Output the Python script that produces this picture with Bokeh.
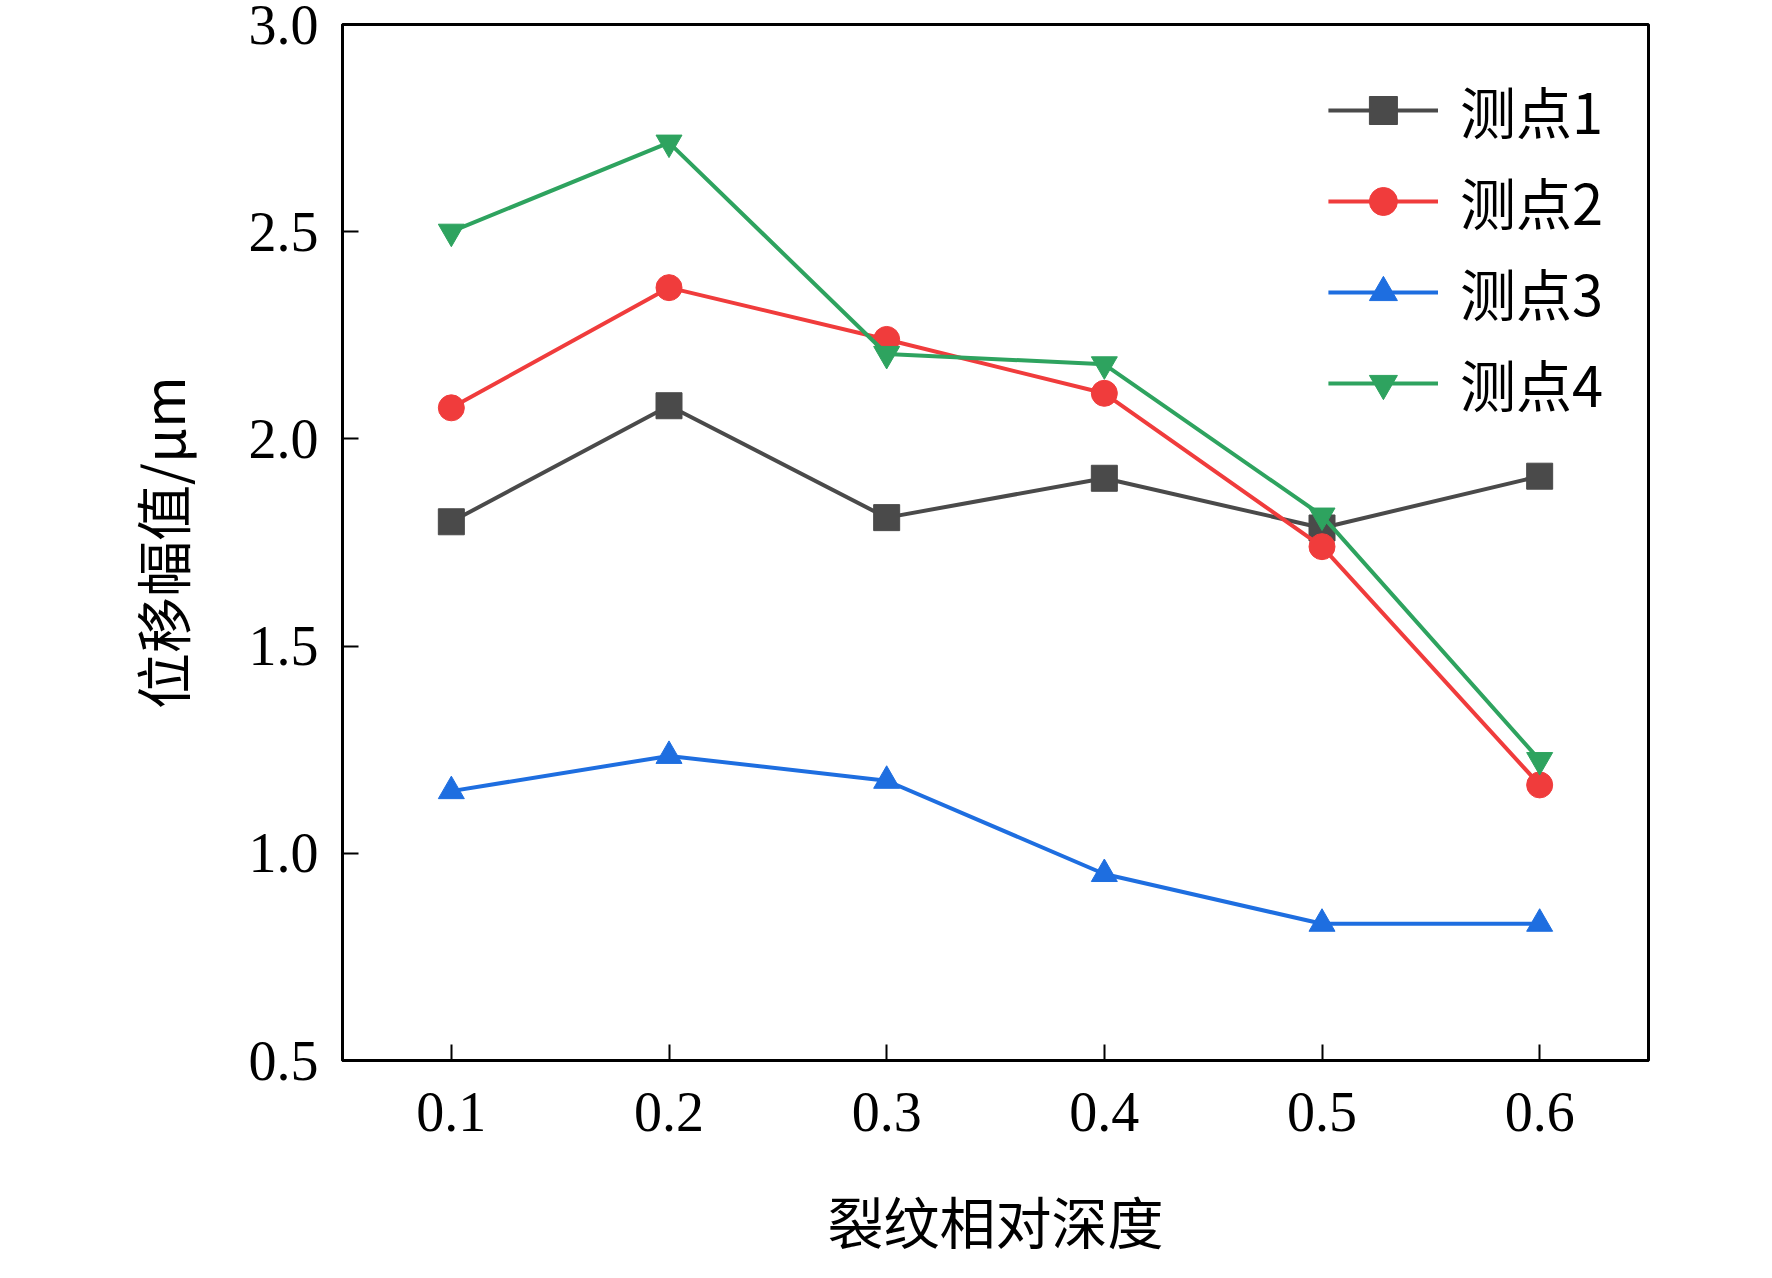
from bokeh.plotting import figure
from bokeh.models import Range1d, FixedTicker, Legend, LegendItem, CustomJSTickFormatter
from bokeh.embed import file_html
from bokeh.resources import INLINE

x = [0.1, 0.2, 0.3, 0.4, 0.5, 0.6]
s1 = [1.80, 2.08, 1.81, 1.905, 1.785, 1.91]
s2 = [2.075, 2.365, 2.24, 2.11, 1.74, 1.165]
s3 = [1.15, 1.235, 1.175, 0.95, 0.83, 0.83]
s4 = [2.50, 2.715, 2.205, 2.18, 1.815, 1.225]
names = ["测点1", "测点2", "测点3", "测点4"]
colors = ["#4a4a4a", "#f03c3c", "#1e6ee0", "#2ea35f"]
markers = ["square", "circle", "triangle", "inverted_triangle"]

p = figure(width=1756, height=1262, output_backend="svg", toolbar_location=None,
           x_range=Range1d(0.05, 0.65), y_range=Range1d(0.5, 3.0),
           min_border_left=342, min_border_right=108, min_border_top=24, min_border_bottom=188)
p.xgrid.visible = False
p.ygrid.visible = False
p.outline_line_color = "black"
p.outline_line_width = 3
for ax in (p.xaxis[0], p.yaxis[0]):
    ax.axis_line_width = 3
    ax.major_tick_in = 16
    ax.major_tick_out = 0
    ax.minor_tick_line_color = None
    ax.major_tick_line_width = 2
    ax.major_label_text_font = "Liberation Serif"
    ax.major_label_text_font_size = "56px"
    ax.major_label_text_color = "black"
    ax.axis_label_text_font = "Noto Sans CJK SC"
    ax.axis_label_text_font_size = "56px"
    ax.axis_label_text_font_style = "normal"
    ax.axis_label_text_color = "black"
p.xaxis.ticker = FixedTicker(ticks=x)
p.yaxis.ticker = FixedTicker(ticks=[0.5, 1.0, 1.5, 2.0, 2.5, 3.0])
p.yaxis.formatter = CustomJSTickFormatter(code="return tick.toFixed(1);")
p.xaxis.major_label_standoff = 32
p.yaxis.major_label_standoff = 24
p.xaxis.axis_label = "裂纹相对深度"
p.yaxis.axis_label = "位移幅值/μm"
p.xaxis.axis_label_standoff = 45
p.yaxis.axis_label_standoff = 45

items = []
for ys, n, c, m in zip([s1, s2, s3, s4], names, colors, markers):
    l = p.line(x, ys, line_color=c, line_width=4)
    s = p.scatter(x, ys, marker=m, size=26, fill_color=c, line_color=c)
    items.append(LegendItem(label=n, renderers=[l, s]))
leg = Legend(items=items, location="top_right", border_line_color=None,
             background_fill_alpha=0, label_text_font="Noto Sans CJK SC",
             label_text_font_size="56px", label_text_color="black",
             glyph_width=110, glyph_height=70, spacing=10, margin=45, label_standoff=22)
p.add_layout(leg)

open("out.html", "w").write(file_html(p, INLINE))
